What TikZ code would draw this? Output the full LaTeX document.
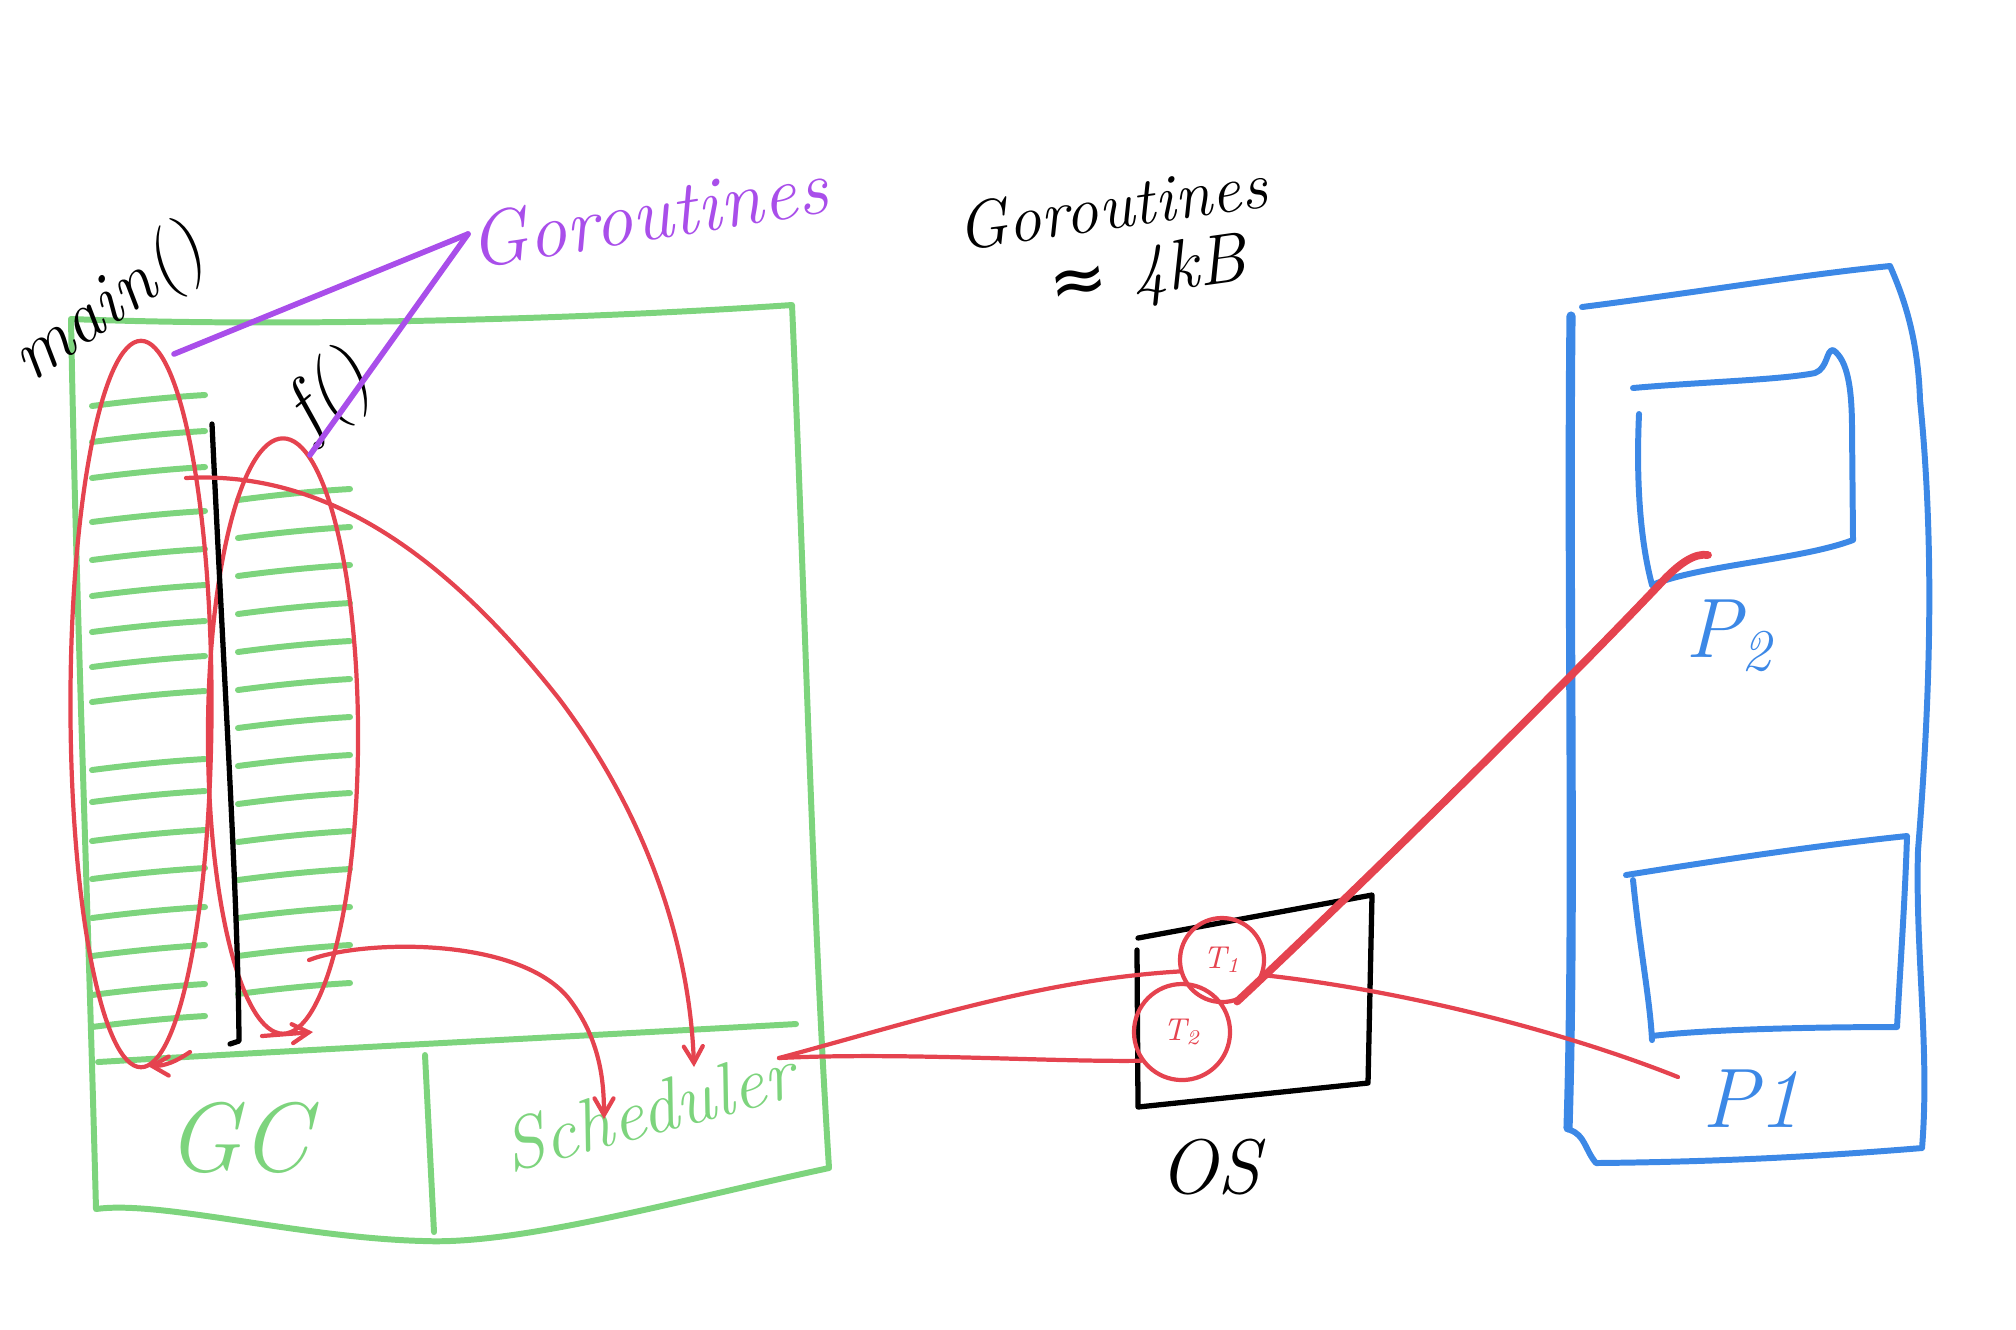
\documentclass[tikz,border=0pt]{standalone}
\usepackage{fontspec}
\usepackage{tikz}
\usetikzlibrary{arrows,shapes.geometric,positioning}
\newfontfamily\symfont{DejaVu Sans}

\definecolor{skgreen}{HTML}{7DD47D}
\definecolor{skred}{HTML}{E5434F}
\definecolor{skblue}{HTML}{3C88E6}
\definecolor{skpurple}{HTML}{A94EEA}

\newcommand{\handsz}[1]{\fontsize{#1}{#1}\selectfont\itshape}

\begin{document}
\begin{tikzpicture}[x=0.01cm,y=-0.01cm,>=angle 60,line cap=round,line join=round]
\tikzstyle{greenline}=[draw=skgreen,line width=1.7pt]
\tikzstyle{redline}=[draw=skred,line width=1.2pt]
\tikzstyle{blueline}=[draw=skblue,line width=1.7pt]
\tikzstyle{purpleline}=[draw=skpurple,line width=1.6pt]
\tikzstyle{inkline}=[draw=black,line width=1.5pt]
\tikzstyle{hand}=[inner sep=0pt]
\tikzstyle{stack}=[ellipse,draw=skred,line width=1.2pt,inner sep=0pt]
\tikzstyle{thread}=[circle,draw=skred,line width=1.2pt,text=skred,inner sep=0pt,font=\small\itshape]

\useasboundingbox (0,0) rectangle (2016,1329);

% runtime box
\draw[greenline] (71,319) .. controls (300,328) and (600,318) .. (792,305)
  .. controls (805,600) and (812,900) .. (829,1168)
  .. controls (680,1200) and (520,1245) .. (424,1241)
  .. controls (300,1238) and (160,1200) .. (96,1209)
  .. controls (88,900) and (76,600) .. (71,319);
\draw[greenline] (98,1062) .. controls (300,1050) and (600,1035) .. (796,1024);
\draw[greenline] (425,1055) -- (434,1232);
\node[hand,text=skgreen,font=\handsz{28}] (gcLbl) at (238,1138) {GC};
\node[hand,text=skgreen,font=\handsz{21},rotate=15] (schedLbl) at (648,1110) {Scheduler};

% stacks
\foreach \y in {401,437,473,517,555,591,627,662,697,765,797,836,874,913,951,990,1022}
  \draw[greenline] (92,\y+5) .. controls (130,\y) and (170,\y-4) .. (205,\y-6);
\foreach \y in {495,533,...,1009}
  \draw[greenline] (238,\y+5) .. controls (275,\y) and (315,\y-4) .. (350,\y-6);
\node[stack,minimum width=1.41cm,minimum height=7.26cm] (mainstack) at (141,704) {};
\node[stack,minimum width=1.5cm,minimum height=5.95cm] (fstack) at (283,736) {};
\draw[redline,->] (190,1052) .. controls (175,1062) and (165,1066) .. (148,1066);
\draw[redline,->] (262,1036) -- (313,1032);
\draw[inkline] (212,424) .. controls (225,700) and (238,900) .. (239,1041) -- (230,1044);

\node[hand,rotate=35,font=\handsz{21}] (mainLbl) at (110,306) {main()};
\node[hand,rotate=40,font=\handsz{22}] (fLbl) at (330,396) {f()};

% goroutines
\node[hand,text=skpurple,rotate=9,font=\handsz{22}] (goroLbl) at (648,214) {Goroutines};
\coordinate (gtip) at (468,234);
\coordinate (maintop) at (174,354);
\coordinate (ftop) at (310,455);
\draw[purpleline] (gtip) -- (maintop);
\draw[purpleline] (gtip) -- (ftop);

\node[hand,rotate=8,font=\handsz{19}] (goroNote) at (1112,206) {Goroutines};
\node[hand,rotate=8,font=\handsz{20}] (sizeNote) at (1148,276) {{\symfont ≈} 4kB};

% calls into the scheduler
\coordinate (mainout) at (186,478);
\coordinate (fout) at (309,960);
\coordinate (schedtop) at (694,1067);
\coordinate (schedmid) at (604,1119);
\draw[redline,->] (mainout) .. controls (330,470) and (450,560) .. (560,700)
  .. controls (650,820) and (690,950) .. (schedtop);
\draw[redline,->] (fout) .. controls (360,940) and (520,935) .. (570,1000)
  .. controls (600,1040) and (604,1080) .. (schedmid);

% OS threads
\draw[inkline] (1138,938) -- (1372,895) -- (1368,1083) -- (1138,1107) -- (1137,950);
\node[hand,font=\handsz{22}] (osLbl) at (1210,1167) {OS};
\node[thread,minimum size=0.84cm] (Tone) at (1222,960) {T\textsubscript{1}};
\node[thread,minimum size=0.96cm] (Ttwo) at (1182,1032) {T\textsubscript{2}};

\coordinate (schedport) at (779,1058);
\draw[redline] (schedport) .. controls (920,1020) and (1040,980) .. (Tone.195);
\draw[redline] (schedport) .. controls (900,1052) and (1050,1062) .. (Ttwo.215);

% processes
\draw[blueline] (1582,307) .. controls (1700,292) and (1800,275) .. (1890,266)
  .. controls (1905,300) and (1918,340) .. (1920,400)
  .. controls (1935,550) and (1930,700) .. (1918,850)
  .. controls (1915,950) and (1930,1050) .. (1922,1148)
  .. controls (1800,1158) and (1700,1162) .. (1596,1163)
  .. controls (1585,1150) and (1585,1135) .. (1570,1130);
\draw[blueline,line width=2.6pt] (1571,316) .. controls (1568,600) and (1575,900) .. (1568,1128);
\draw[blueline] (1633,388) .. controls (1700,382) and (1780,380) .. (1815,373)
  .. controls (1828,368) and (1826,350) .. (1833,350)
  .. controls (1848,360) and (1852,390) .. (1852,430)
  -- (1853,540)
  .. controls (1800,560) and (1700,565) .. (1652,585);
\draw[blueline] (1639,414) .. controls (1636,480) and (1640,540) .. (1652,585);
\draw[blueline] (1626,875) .. controls (1720,860) and (1820,845) .. (1907,836)
  .. controls (1905,900) and (1900,970) .. (1897,1027)
  .. controls (1800,1027) and (1700,1030) .. (1652,1036);
\draw[blueline] (1633,880) .. controls (1640,950) and (1650,1000) .. (1652,1040);
\node[hand,text=skblue,font=\handsz{24}] (ptwo) at (1729,636) {P\textsubscript{2}};
\node[hand,text=skblue,font=\handsz{24}] (pone) at (1752,1099) {P1};

\coordinate (p2in) at (1708,555);
\coordinate (p1in) at (1678,1077);
\draw[redline,line width=2.2pt] (Tone.-70) .. controls (1330,915) and (1550,700) .. (1659,585)
  .. controls (1680,562) and (1695,553) .. (p2in);
\draw[redline] (Tone.-20) .. controls (1400,990) and (1560,1030) .. (p1in);
\end{tikzpicture}
\end{document}
